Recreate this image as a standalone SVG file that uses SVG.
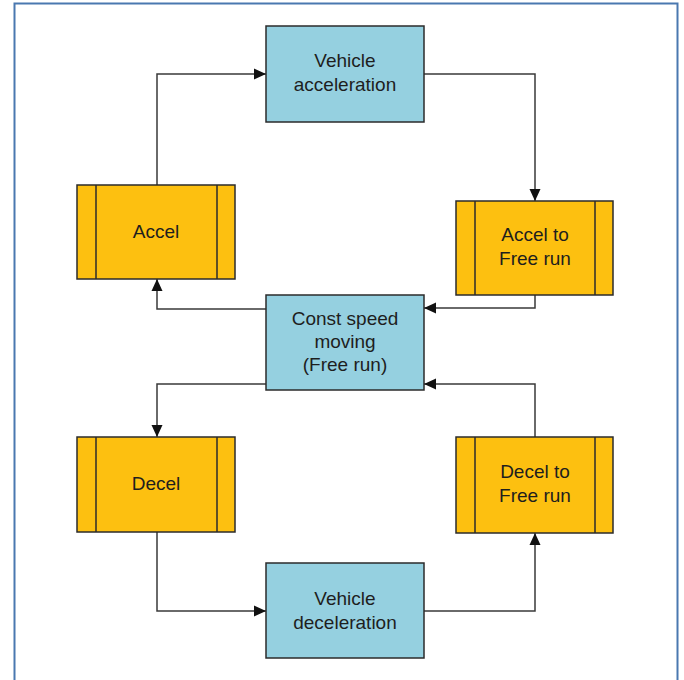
<svg xmlns="http://www.w3.org/2000/svg" width="684" height="680" viewBox="0 0 684 680">
<defs>
<style>
.blue{fill:#95d0e0;stroke:#2b2b2b;stroke-width:1.5}
.orange{fill:#fdc010;stroke:#2b2b2b;stroke-width:1.5}
.inner{stroke:#2b2b2b;stroke-width:1.5}
.t{font-family:"Liberation Sans",Arial,sans-serif;font-size:19px;fill:#1e1e1e;text-anchor:middle}
.c{fill:none;stroke:#3a3a3a;stroke-width:1.5}
</style>
<marker id="ah" viewBox="0 0 12 12" refX="12" refY="6" markerWidth="12" markerHeight="12" markerUnits="userSpaceOnUse" orient="auto">
<path d="M0,0.5 L12,6 L0,11.5 Z" fill="#111"/>
</marker>
</defs>
<rect x="0" y="0" width="684" height="680" fill="#fff"/>
<path d="M14.5,682 V3.5 H677.5 V682" fill="none" stroke="#4a78b0" stroke-width="2"/>
<g id="connectors">
<path class="c" d="M157,185 V74 H266" marker-end="url(#ah)"/>
<path class="c" d="M424,74 H535 V201" marker-end="url(#ah)"/>
<path class="c" d="M535,295 V308 H424" marker-end="url(#ah)"/>
<path class="c" d="M266,309 H157 V279" marker-end="url(#ah)"/>
<path class="c" d="M266,384 H157 V437" marker-end="url(#ah)"/>
<path class="c" d="M157,532 V611 H266" marker-end="url(#ah)"/>
<path class="c" d="M424,611 H535 V533" marker-end="url(#ah)"/>
<path class="c" d="M535,437 V384 H424" marker-end="url(#ah)"/>
</g>
<g id="vehicle-acceleration">
<rect class="blue" x="266" y="26" width="158" height="96"/>
<text class="t" x="345" y="67">Vehicle</text>
<text class="t" x="345" y="91">acceleration</text>
</g>
<g id="accel">
<rect class="orange" x="77" y="185" width="158" height="94"/>
<line class="inner" x1="96" y1="185" x2="96" y2="279"/>
<line class="inner" x1="217" y1="185" x2="217" y2="279"/>
<text class="t" x="156" y="238">Accel</text>
</g>
<g id="accel-to-free-run">
<rect class="orange" x="456" y="201" width="157" height="94"/>
<line class="inner" x1="475" y1="201" x2="475" y2="295"/>
<line class="inner" x1="595" y1="201" x2="595" y2="295"/>
<text class="t" x="535" y="241">Accel to</text>
<text class="t" x="535" y="265">Free run</text>
</g>
<g id="const-speed">
<rect class="blue" x="266" y="295" width="158" height="95"/>
<text class="t" x="345" y="325">Const speed</text>
<text class="t" x="345" y="348">moving</text>
<text class="t" x="345" y="371">(Free run)</text>
</g>
<g id="decel">
<rect class="orange" x="77" y="437" width="158" height="95"/>
<line class="inner" x1="96" y1="437" x2="96" y2="532"/>
<line class="inner" x1="217" y1="437" x2="217" y2="532"/>
<text class="t" x="156" y="490">Decel</text>
</g>
<g id="decel-to-free-run">
<rect class="orange" x="456" y="437" width="157" height="96"/>
<line class="inner" x1="475" y1="437" x2="475" y2="533"/>
<line class="inner" x1="595" y1="437" x2="595" y2="533"/>
<text class="t" x="535" y="478">Decel to</text>
<text class="t" x="535" y="502">Free run</text>
</g>
<g id="vehicle-deceleration">
<rect class="blue" x="266" y="563" width="158" height="95"/>
<text class="t" x="345" y="605">Vehicle</text>
<text class="t" x="345" y="629">deceleration</text>
</g>
</svg>
